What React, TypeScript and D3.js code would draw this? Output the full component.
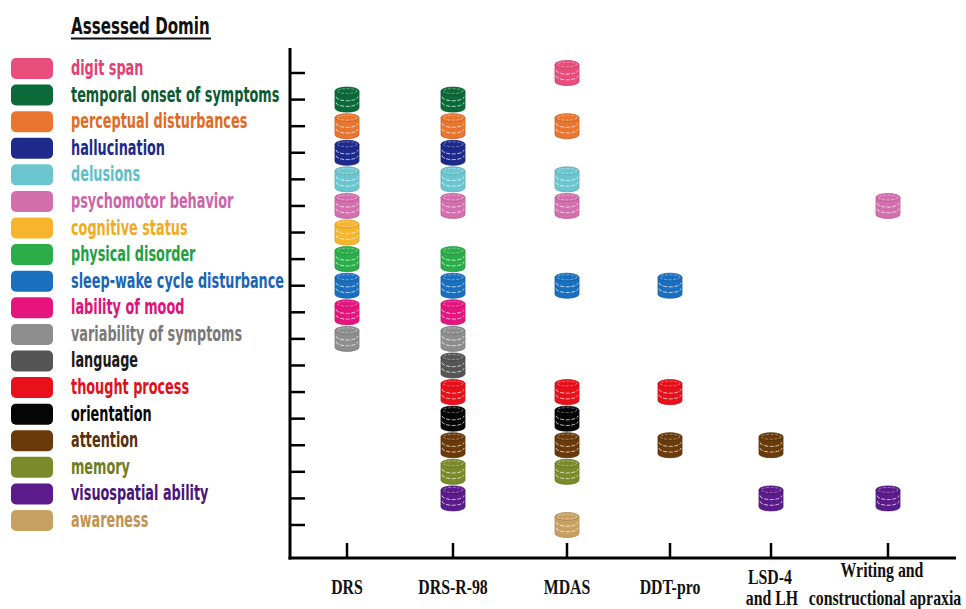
import React from "react";
import * as d3 from "d3";

const domains = [
  "digit span",
  "temporal onset of symptoms",
  "perceptual disturbances",
  "hallucination",
  "delusions",
  "psychomotor behavior",
  "cognitive status",
  "physical disorder",
  "sleep-wake cycle disturbance",
  "lability of mood",
  "variability of symptoms",
  "language",
  "thought process",
  "orientation",
  "attention",
  "memory",
  "visuospatial ability",
  "awareness",
];

const domainColors = [
  "#e84d7c", "#0b6a37", "#e8762f", "#1d2a8c", "#6cc6cf", "#d46fae",
  "#f6b52d", "#2bae49", "#1b6fbf", "#e6147d", "#8e8e8e", "#555555",
  "#e8111b", "#050505", "#6a3a0b", "#7b8a2b", "#5b1b8a", "#c8a062",
];

const labelColors = [
  "#e23f73", "#0b5a30", "#e06b25", "#1d2a8c", "#5cc0ca", "#cc64a8",
  "#f2ab1e", "#22a043", "#1b65b5", "#e0127a", "#7a7a7a", "#1a1a1a",
  "#e0101a", "#050505", "#5a300a", "#6f7d22", "#4b1678", "#c09450",
];

const instruments = ["DRS", "DRS-R-98", "MDAS", "DDT-pro", "LSD-4|and LH", "Writing and|constructional apraxia"];

const drs = ["temporal onset of symptoms", "perceptual disturbances", "hallucination", "delusions", "psychomotor behavior", "cognitive status", "physical disorder", "sleep-wake cycle disturbance", "lability of mood", "variability of symptoms"];
const drsR98 = ["temporal onset of symptoms", "perceptual disturbances", "hallucination", "delusions", "psychomotor behavior", "physical disorder", "sleep-wake cycle disturbance", "lability of mood", "variability of symptoms", "language", "thought process", "orientation", "attention", "memory", "visuospatial ability"];
const mdas = ["digit span", "perceptual disturbances", "delusions", "psychomotor behavior", "sleep-wake cycle disturbance", "thought process", "orientation", "attention", "memory", "awareness"];
const ddtPro = ["sleep-wake cycle disturbance", "thought process", "attention"];
const lsd4 = ["attention", "visuospatial ability"];
const writing = ["psychomotor behavior", "visuospatial ability"];

const assessed = [drs, drsR98, mdas, ddtPro, lsd4, writing];

const W = 966, H = 609;
const axisX = 290, axisBottom = 558, axisTop = 48, axisRight = 956;

const sans = "'DejaVu Sans Condensed', 'DejaVu Sans', sans-serif";
const serif = "'Liberation Serif', 'Times New Roman', serif";

export default function App() {
  const x = d3.scaleOrdinal<string, number>().domain(instruments).range([347, 453, 567, 670, 771, 888]);
  const y = d3.scalePoint<string>().domain(domains).range([73, 525]);
  const color = d3.scaleOrdinal<string, string>().domain(domains).range(domainColors);
  const lcolor = d3.scaleOrdinal<string, string>().domain(domains).range(labelColors);

  const cw = 24, ch = 25, ry = 4;

  const cylinder = (cx: number, cy: number, col: string, key: string) => {
    const l = cx - cw / 2, r = cx + cw / 2, t = cy - ch / 2, b = cy + ch / 2;
    const body = `M${l},${t + ry} L${l},${b - ry} A${cw / 2},${ry} 0 0 0 ${r},${b - ry} L${r},${t + ry} Z`;
    const band = (ty: number) => `M${l + 1},${ty} A${cw / 2 - 1},${ry} 0 0 0 ${r - 1},${ty}`;
    const dark = d3.color(col)!.darker(0.4).toString();
    const y1 = t + ry + (ch - 2 * ry) / 3;
    const y2 = t + ry + (2 * (ch - 2 * ry)) / 3;
    return (
      <g key={key}>
        <path d={body} fill={col} stroke={dark} strokeWidth={0.8} />
        <ellipse cx={cx} cy={t + ry} rx={cw / 2} ry={ry} fill={col} stroke={dark} strokeWidth={0.8} />
        <ellipse cx={cx} cy={t + ry} rx={cw / 2 - 2} ry={ry - 1.5} fill="none" stroke="#ffffff" strokeOpacity={0.45} strokeWidth={0.8} strokeDasharray="3 1.5" />
        <path d={band(y1)} fill="none" stroke="#ffffff" strokeOpacity={0.7} strokeWidth={1} strokeDasharray="4 1.5" />
        <path d={band(y2)} fill="none" stroke="#ffffff" strokeOpacity={0.7} strokeWidth={1} strokeDasharray="4 1.5" />
      </g>
    );
  };

  const xLabel = (txt: string, cx: number, by: number, key: string) => (
    <text key={key} transform={`translate(${cx},${by}) scale(0.72,1)`} textAnchor="middle" fontFamily={serif} fontWeight="bold" fontSize={22} fill="#111">{txt}</text>
  );

  return (
    <svg width={W} height={H} style={{ position: "absolute", left: 0, top: 0, background: "#fff" }}>
      <text transform="translate(71,34) scale(0.73,1)" fontFamily={sans} fontWeight="bold" fontSize={23} fill="#111">Assessed Domin</text>
      <line x1={71} x2={211} y1={38.5} y2={38.5} stroke="#111" strokeWidth={2} />

      {domains.map((d) => {
        const by = y(d)!;
        return (
          <g key={"lg" + d}>
            <rect x={11} y={by - 15} width={42} height={21} rx={5} fill={color(d)} />
            <text transform={`translate(71,${by + 2}) scale(0.68,1)`} fontFamily={sans} fontWeight="bold" fontSize={21} fill={lcolor(d)}>{d}</text>
          </g>
        );
      })}

      <line x1={axisX} x2={axisX} y1={axisTop} y2={axisBottom + 1.5} stroke="#000" strokeWidth={3} />
      <line x1={axisX - 1.5} x2={axisRight} y1={axisBottom} y2={axisBottom} stroke="#000" strokeWidth={3} />
      {domains.map((d) => (
        <line key={"yt" + d} x1={axisX} x2={axisX + 15} y1={y(d)!} y2={y(d)!} stroke="#000" strokeWidth={2.5} />
      ))}
      {instruments.map((ins) => (
        <line key={"xt" + ins} x1={x(ins)} x2={x(ins)} y1={axisBottom} y2={axisBottom - 15} stroke="#000" strokeWidth={2.5} />
      ))}

      {instruments.map((ins, k) =>
        assessed[k].map((d) => cylinder(x(ins), y(d)!, color(d), ins + d))
      )}

      {instruments.map((ins) => {
        const lines = ins.split("|");
        const cx = x(ins);
        if (lines.length === 1) return xLabel(ins, cx, 594, "xl" + ins);
        if (ins.startsWith("LSD")) {
          return (
            <g key={"xl" + ins}>
              {xLabel(lines[0], cx - 1, 584, "a")}
              {xLabel(lines[1], cx + 1, 605, "b")}
            </g>
          );
        }
        return (
          <g key={"xl" + ins}>
            {xLabel(lines[0], cx - 6, 577, "a")}
            {xLabel(lines[1], cx - 3, 605, "b")}
          </g>
        );
      })}
    </svg>
  );
}
